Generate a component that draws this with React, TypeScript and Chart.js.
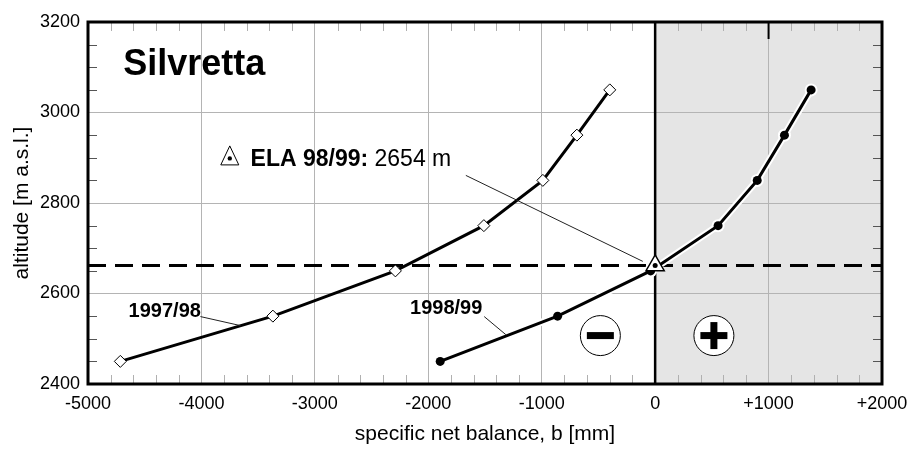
import React, { useEffect, useRef } from "react";
import { Chart, registerables } from "chart.js";

Chart.register(...registerables);

// ---- data ----
const altitudes = [2450, 2550, 2650, 2750, 2850, 2950, 3050];
const balance9798 = [-4715, -3370, -2290, -1510, -990, -690, -400];
const balance9899 = [-1895, -860, -40, 555, 900, 1140, 1375];
const elaAltitude = 2662;
const elaBalance = 0;

const xTicks = [-5000, -4000, -3000, -2000, -1000, 0, 1000, 2000];
const xTickLabels = ["-5000", "-4000", "-3000", "-2000", "-1000", "0", "+1000", "+2000"];
const yTicks = [2400, 2600, 2800, 3000, 3200];
const yTickLabels = ["2400", "2600", "2800", "3000", "3200"];

const titleText = "Silvretta";
const elaBold = "ELA 98/99:";
const elaRegular = " 2654 m";
const label9798 = "1997/98";
const label9899 = "1998/99";
const xTitle = "specific net balance, b [mm]";
const yTitle = "altitude [m a.s.l.]";

const FONT = "'Liberation Sans', Arial, Helvetica, sans-serif";

const pts = (xs: number[], ys: number[]) => xs.map((x, i) => ({ x, y: ys[i] }));

const decorPlugin = {
  id: "decor",
  beforeDraw(chart: any) {
    const { ctx, chartArea: a, scales } = chart;
    const xs = scales.x;
    ctx.save();
    ctx.fillStyle = "#e5e5e5";
    const x0 = xs.getPixelForValue(0);
    ctx.fillRect(x0, a.top, a.right - x0, a.bottom - a.top);
    ctx.restore();
  },
  beforeDatasetsDraw(chart: any) {
    const { ctx, chartArea: a, scales } = chart;
    const xs = scales.x, ys = scales.y;
    ctx.save();
    // vertical zero line
    const x0 = xs.getPixelForValue(0);
    ctx.strokeStyle = "#000";
    ctx.lineWidth = 2.5;
    ctx.beginPath();
    ctx.moveTo(x0, a.top);
    ctx.lineTo(x0, a.bottom);
    ctx.stroke();
    // dashed ELA line
    const ye = ys.getPixelForValue(elaAltitude);
    ctx.lineWidth = 3;
    ctx.setLineDash([18, 9]);
    ctx.beginPath();
    ctx.moveTo(a.left, ye);
    ctx.lineTo(a.right, ye);
    ctx.stroke();
    ctx.restore();
  },
  afterDatasetsDraw(chart: any) {
    const { ctx, scales } = chart;
    const xs = scales.x, ys = scales.y;
    const px = (v: number) => xs.getPixelForValue(v);
    const py = (v: number) => ys.getPixelForValue(v);
    ctx.save();
    ctx.fillStyle = "#000";
    ctx.textBaseline = "alphabetic";
    ctx.textAlign = "left";

    // title
    ctx.font = `bold 36px ${FONT}`;
    ctx.fillText(titleText, px(-4690), py(3083));

    // ELA label
    const ex = px(-3567), ey = py(2882);
    ctx.font = `bold 23px ${FONT}`;
    ctx.fillText(elaBold, ex, ey);
    const w = ctx.measureText(elaBold).width;
    ctx.font = `23px ${FONT}`;
    ctx.fillText(elaRegular, ex + w, ey);
    // icon
    const ix = px(-3750);
    ctx.strokeStyle = "#000";
    ctx.lineWidth = 1;
    ctx.beginPath();
    ctx.moveTo(ix, ey - 20);
    ctx.lineTo(ix + 9, ey - 1);
    ctx.lineTo(ix - 9, ey - 1);
    ctx.closePath();
    ctx.stroke();
    ctx.beginPath();
    ctx.arc(ix, ey - 7.5, 2.2, 0, Math.PI * 2);
    ctx.fill();

    // series labels
    ctx.font = `bold 20px ${FONT}`;
    ctx.fillText(label9798, px(-4642), py(2549));
    ctx.fillText(label9899, px(-2161), py(2555));

    // leader lines
    ctx.strokeStyle = "#222";
    ctx.lineWidth = 1;
    const leader = (a: number[], b: number[]) => {
      ctx.beginPath();
      ctx.moveTo(px(a[0]), py(a[1]));
      ctx.lineTo(px(b[0]), py(b[1]));
      ctx.stroke();
    };
    leader([-4009, 2549], [-3655, 2529]);
    leader([-1507, 2549], [-1316, 2509]);
    leader([-1669, 2861], [-109, 2671]);

    // minus / plus circles
    const circ = (cx: number, cy: number, plus: boolean) => {
      ctx.beginPath();
      ctx.arc(cx, cy, 20, 0, Math.PI * 2);
      ctx.fillStyle = "#fff";
      ctx.fill();
      ctx.strokeStyle = "#000";
      ctx.lineWidth = 1;
      ctx.stroke();
      ctx.fillStyle = "#000";
      ctx.fillRect(cx - 13.5, cy - 3.5, 27, 7);
      if (plus) ctx.fillRect(cx - 3.5, cy - 13.5, 7, 27);
    };
    circ(px(-483), py(2507), false);
    circ(px(518), py(2507), true);
    ctx.restore();
  },
  afterDraw(chart: any) {
    const { ctx, chartArea: a, scales } = chart;
    const xs = scales.x, ys = scales.y;
    ctx.save();
    // minor ticks x (top & bottom)
    ctx.lineWidth = 1;
    ctx.strokeStyle = "#b0b0b0";
    for (let v = -5000; v <= 2000; v += 200) {
      if (v % 1000 === 0) continue;
      const x = Math.round(xs.getPixelForValue(v)) + 0.5;
      ctx.beginPath();
      ctx.moveTo(x, a.top);
      ctx.lineTo(x, a.top + 9);
      ctx.moveTo(x, a.bottom);
      ctx.lineTo(x, a.bottom - 9);
      ctx.stroke();
    }
    // minor ticks y (left & right)
    ctx.strokeStyle = "#555";
    for (let v = 2400; v <= 3200; v += 50) {
      if (v % 200 === 0) continue;
      const y = Math.round(ys.getPixelForValue(v)) + 0.5;
      ctx.beginPath();
      ctx.moveTo(a.left, y);
      ctx.lineTo(a.left + 9, y);
      ctx.moveTo(a.right, y);
      ctx.lineTo(a.right - 9, y);
      ctx.stroke();
    }
    // dark tick at +1000 on top
    ctx.strokeStyle = "#000";
    ctx.lineWidth = 2;
    const xk = xs.getPixelForValue(1000);
    ctx.beginPath();
    ctx.moveTo(xk, a.top);
    ctx.lineTo(xk, a.top + 17);
    ctx.stroke();
    // frame
    ctx.lineWidth = 3;
    ctx.strokeRect(a.left, a.top, a.right - a.left, a.bottom - a.top);

    // axis titles
    ctx.fillStyle = "#000";
    ctx.font = `21px ${FONT}`;
    ctx.textAlign = "center";
    ctx.textBaseline = "alphabetic";
    ctx.fillText(xTitle, (a.left + a.right) / 2, 440);
    ctx.translate(28, (a.top + a.bottom) / 2);
    ctx.rotate(-Math.PI / 2);
    ctx.fillText(yTitle, 0, 0);
    ctx.restore();
  },
};

export default function App() {
  const ref = useRef<HTMLCanvasElement | null>(null);
  useEffect(() => {
    if (!ref.current) return;
    const chart = new Chart(ref.current, {
      type: "line",
      data: {
        datasets: [
          {
            label: "ELA dot",
            data: [{ x: elaBalance, y: elaAltitude }],
            showLine: false,
            pointStyle: "circle",
            pointRadius: 2.5,
            pointBackgroundColor: "#000",
            pointBorderWidth: 0,
            order: 0,
          },
          {
            label: "ELA",
            data: [{ x: elaBalance, y: elaAltitude }],
            showLine: false,
            pointStyle: "triangle",
            pointRadius: 10.5,
            pointBackgroundColor: "#fff",
            pointBorderColor: "#000",
            pointBorderWidth: 1.5,
            order: 1,
          },
          {
            label: label9798,
            data: pts(balance9798, altitudes),
            borderColor: "#000",
            borderWidth: 3,
            pointStyle: "rectRot",
            pointRadius: 6,
            pointBackgroundColor: "#fff",
            pointBorderColor: "#000",
            pointBorderWidth: 1,
            tension: 0,
            order: 2,
          },
          {
            label: label9899,
            data: pts(balance9899, altitudes),
            borderColor: "#000",
            borderWidth: 3,
            pointStyle: "circle",
            pointRadius: 4.5,
            pointBackgroundColor: "#000",
            pointBorderWidth: 0,
            tension: 0,
            order: 3,
          },
          {
            label: "halo",
            data: pts(balance9899, altitudes),
            borderColor: "#fff",
            borderWidth: 7,
            pointStyle: "circle",
            pointRadius: 6.5,
            pointBackgroundColor: "#fff",
            pointBorderWidth: 0,
            tension: 0,
            order: 4,
          },
        ],
      },
      options: {
        animation: false,
        responsive: false,
        maintainAspectRatio: false,
        devicePixelRatio: 1,
        layout: { padding: { top: 22, right: 29, bottom: 0, left: 0 } },
        plugins: { legend: { display: false }, tooltip: { enabled: false } },
        scales: {
          x: {
            type: "linear",
            min: -5000,
            max: 2000,
            afterBuildTicks: (s: any) => {
              s.ticks = xTicks.map((v) => ({ value: v }));
            },
            afterFit: (s: any) => {
              s.height = 68;
              s.paddingLeft = 0;
              s.paddingRight = 0;
            },
            ticks: {
              autoSkip: false,
              maxRotation: 0,
              padding: 9,
              color: "#000",
              font: { family: FONT, size: 18 },
              callback: (v: any) => xTickLabels[xTicks.indexOf(Number(v))] ?? "",
            },
            grid: { color: "#b4b4b4", lineWidth: 1, drawTicks: false },
            border: { display: false },
          },
          y: {
            type: "linear",
            min: 2400,
            max: 3200,
            afterBuildTicks: (s: any) => {
              s.ticks = yTicks.map((v) => ({ value: v }));
            },
            afterFit: (s: any) => {
              s.width = 88;
              s.paddingTop = 0;
              s.paddingBottom = 0;
            },
            ticks: {
              autoSkip: false,
              padding: 8,
              color: "#000",
              font: { family: FONT, size: 18 },
              callback: (v: any) => yTickLabels[yTicks.indexOf(Number(v))] ?? "",
            },
            grid: { color: "#b4b4b4", lineWidth: 1, drawTicks: false },
            border: { display: false },
          },
        },
      },
      plugins: [decorPlugin],
    });
    return () => chart.destroy();
  }, []);
  return (
    <div style={{ position: "absolute", left: 0, top: 0, width: 911, height: 452, background: "#fff" }}>
      <canvas ref={ref} width={911} height={452} style={{ display: "block", width: 911, height: 452 }} />
    </div>
  );
}
